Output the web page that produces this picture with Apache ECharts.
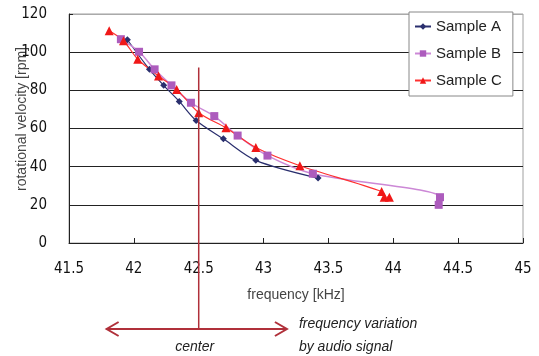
<!DOCTYPE html>
<html>
<head>
<meta charset="utf-8">
<script src="https://cdn.jsdelivr.net/npm/echarts@6/dist/echarts.min.js"></script>
<style>
  html, body { margin: 0; padding: 0; background: #fff; }
  #chart { width: 539px; height: 356px; }
</style>
</head>
<body>
<div id="chart"></div>
<script>
// [frequency kHz, rotational velocity rpm]
const sampleA = [[41.95, 106.5], [42.12, 91], [42.23, 82.6], [42.35, 74.2], [42.48, 64.2], [42.69, 54.6], [42.94, 43.3], [43.42, 34]]
const sampleB = [[41.9, 106.8], [42.04, 100.2], [42.16, 91], [42.29, 82.6], [42.44, 73.5], [42.62, 66.5], [42.8, 56.3], [43.03, 45.8], [43.38, 36.3], [44.36, 24], [44.35, 20]]
const sampleC = [[41.81, 111.2], [41.92, 106], [42.03, 96.3], [42.19, 87.5], [42.33, 80.5], [42.5, 68.3], [42.71, 60.4], [42.94, 50], [43.28, 40.5], [43.91, 27], [43.93, 24], [43.97, 24]]
const seriesNames = ['Sample A', 'Sample B', 'Sample C']

// annotation: center frequency and the audio-signal swing
const centerFreq = 42.5
const centerTopRpm = 92
const swingFrom = 41.79
const swingTo = 43.18

const chart = echarts.init(document.getElementById('chart'))
const font = 'Liberation Sans, Arial, sans-serif'
const narrow = 'Liberation Sans Narrow, DejaVu Sans Condensed, Liberation Sans, sans-serif'

const option = {
  animation: false,
  textStyle: { fontFamily: font },
  grid: {
    left: 69, right: 16, top: 14, bottom: 113,
    show: true, borderColor: '#a0a0a0', borderWidth: 1,
  },
  legend: {
    orient: 'vertical',
    left: 409, top: 12,
    padding: [7, 11, 8, 5],
    itemGap: 12,
    itemWidth: 16,
    itemHeight: 8,
    backgroundColor: '#fff',
    borderColor: '#888',
    borderWidth: 1,
    textStyle: { fontSize: 15, color: '#222', fontFamily: font },
    data: seriesNames,
  },
  xAxis: {
    type: 'value',
    min: 41.5, max: 45, interval: 0.5,
    name: 'frequency [kHz]',
    nameLocation: 'middle',
    nameGap: 45,
    nameTextStyle: { fontSize: 14, color: '#444' },
    axisLine: { lineStyle: { color: '#222' } },
    axisTick: { inside: true, length: 5, lineStyle: { color: '#222' } },
    axisLabel: { fontSize: 15, color: '#111', margin: 19, fontFamily: narrow },
    splitLine: { show: false },
  },
  yAxis: {
    type: 'value',
    min: 0, max: 120, interval: 20,
    axisLine: { show: true, lineStyle: { color: '#222' } },
    axisTick: { show: true, inside: true, length: 4, lineStyle: { color: '#222' } },
    axisLabel: { fontSize: 15, color: '#111', margin: 22, fontFamily: narrow },
    splitLine: { lineStyle: { color: ['#222', '#222', '#222', '#222', '#222', '#222', '#aaa'], width: 1 } },
  },
  series: [
    {
      name: 'Sample A', type: 'line', smooth: 0.3, data: sampleA,
      symbol: 'diamond', symbolSize: 7,
      lineStyle: { color: '#2a2f6e', width: 1.2 },
      itemStyle: { color: '#2a2f6e' },
    },
    {
      name: 'Sample B', type: 'line', smooth: 0.3, data: sampleB,
      symbol: 'rect', symbolSize: 8,
      lineStyle: { color: '#cc88d6', width: 1.5 },
      itemStyle: { color: '#ad5cbd' },
    },
    {
      name: 'Sample C', type: 'line', smooth: 0.3, data: sampleC,
      symbol: 'triangle', symbolSize: 9,
      lineStyle: { color: '#ff3030', width: 1.2 },
      itemStyle: { color: '#f01818' },
    },
  ],
}

chart.setOption(option)

// annotation below the axis, positioned through the chart's own scale
const px = (x, y) => chart.convertToPixel({ gridIndex: 0 }, [x, y])
const cTop = px(centerFreq, centerTopRpm)
const aL = px(swingFrom, 0)
const aR = px(swingTo, 0)
const arrowY = 329
const red = '#b0303a'

chart.setOption({
  graphic: [
    {
      type: 'text', x: 22, y: 119, rotation: Math.PI / 2,
      style: { text: 'rotational velocity [rpm]', fontSize: 14, fill: '#444', fontFamily: font, align: 'center', verticalAlign: 'middle' },
    },
    { type: 'line', shape: { x1: cTop[0], y1: cTop[1], x2: cTop[0], y2: arrowY }, style: { stroke: red, lineWidth: 1.5 }, z: 10 },
    { type: 'line', shape: { x1: aL[0], y1: arrowY, x2: aR[0], y2: arrowY }, style: { stroke: red, lineWidth: 2 } },
    { type: 'polyline', shape: { points: [[aL[0] + 12, arrowY - 7], [aL[0], arrowY], [aL[0] + 12, arrowY + 7]] }, style: { stroke: red, lineWidth: 2, fill: null } },
    { type: 'polyline', shape: { points: [[aR[0] - 12, arrowY - 7], [aR[0], arrowY], [aR[0] - 12, arrowY + 7]] }, style: { stroke: red, lineWidth: 2, fill: null } },
    {
      type: 'text', x: cTop[0] - 4, y: 347,
      style: { text: 'center', fontSize: 14, fontStyle: 'italic', fill: '#222', fontFamily: font, align: 'center', verticalAlign: 'middle' },
    },
    {
      type: 'text', x: aR[0] + 12, y: 324,
      style: { text: 'frequency variation', fontSize: 14, fontStyle: 'italic', fill: '#222', fontFamily: font, align: 'left', verticalAlign: 'middle' },
    },
    {
      type: 'text', x: aR[0] + 12, y: 347,
      style: { text: 'by audio signal', fontSize: 14, fontStyle: 'italic', fill: '#222', fontFamily: font, align: 'left', verticalAlign: 'middle' },
    },
  ],
})
</script>
</body>
</html>
